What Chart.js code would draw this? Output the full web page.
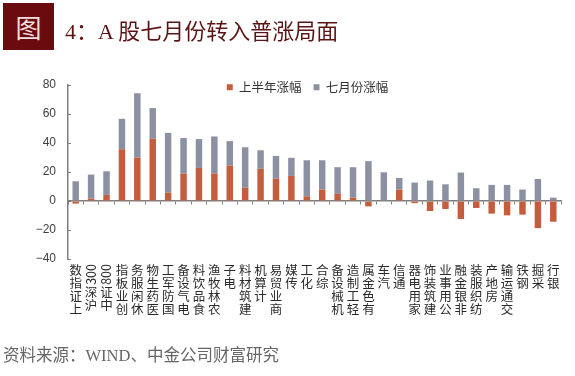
<!DOCTYPE html>
<html lang="zh">
<head>
<meta charset="UTF-8">
<title>A股七月份转入普涨局面</title>
<script src="https://cdn.jsdelivr.net/npm/chart.js"></script>
<style>
  html, body { margin: 0; padding: 0; background: #fff; }
  #wrap { position: relative; width: 575px; height: 376px; overflow: hidden; }
  #fig { position: absolute; left: 3px; top: 3px; width: 51px; height: 47px; background: #6a0c0f;
         color: #f3dede; font: 26px "Noto Sans CJK SC"; text-align: center; line-height: 47px; }
  #title { position: absolute; left: 65px; top: 13px; font: 22px "Liberation Serif", "Noto Sans CJK SC";
           color: #5a1414; white-space: nowrap; }
  #source { position: absolute; left: 3px; top: 342px; font: 16.5px "Liberation Serif", "Noto Sans CJK SC";
            color: #666; white-space: nowrap; }
  #chart { position: absolute; left: 0; top: 0; }
</style>
</head>
<body>
<div id="wrap">
  <canvas id="chart" width="575" height="376"></canvas>
  <div id="fig">图</div>
  <div id="title">4：A 股七月份转入普涨局面</div>
  <div id="source">资料来源：WIND、中金公司财富研究</div>
</div>
<script>
const categories = ['上证指数', '沪深300', '中证800', '创业板指', '休闲服务', '医药生物', '国防军工', '电气设备',
    '食品饮料', '农林牧渔', '电子', '建筑材料', '计算机', '商业贸易', '传媒', '化工',
    '综合', '机械设备', '轻工制造', '有色金属', '汽车', '通信', '家用电器', '建筑装饰',
    '公用事业', '非银金融', '纺织服装', '房地产', '交通运输', '钢铁', '采掘', '银行'];
// 上半年涨幅 (%)
const firstHalf = [-1.8, 1.6, 4.2, 35.7, 30.0, 43.1, 5.8, 18.9,
    22.8, 18.9, 24.5, 9.2, 22.2, 15.5, 17.3, 3.2,
    7.9, 4.9, 2.3, -3.7, 0.3, 7.9, -1.5, -6.9,
    -5.5, -12.4, -4.8, -8.7, -9.9, -9.4, -18.7, -14.3];
// 七月份涨幅 (%), stacked on top of first half
const july = [13.6, 16.6, 16.3, 21.0, 44.3, 21.0, 41.2, 24.5,
    19.9, 25.6, 16.8, 27.9, 12.8, 15.6, 12.5, 24.9,
    20.2, 18.4, 21.0, 27.5, 19.5, 8.0, 12.7, 14.1,
    11.5, 19.6, 8.8, 11.1, 11.1, 7.9, 15.2, 2.3];
const yMin = -40, yMax = 80, yStep = 20;

const cjk = '"Noto Sans CJK SC", sans-serif';

// vertical category labels: characters upright, read bottom-to-top, digit runs rotated
const verticalLabels = {
    id: 'verticalLabels',
    afterLayout(chart) {
        // legend sits over the top of the plot like the original
        const lg = chart.legend;
        lg.top += 18.5; lg.bottom += 18.5;
        lg.left += 27; lg.right += 27;
    },
    afterDraw(chart) {
        const ctx = chart.ctx, xs = chart.scales.x;
        const top = chart.chartArea.bottom + 5;
        ctx.save();
        ctx.fillStyle = '#2a2a2a';
        ctx.font = '12.5px ' + cjk;
        categories.forEach((label, i) => {
            const x = xs.getPixelForValue(i);
            let y = top;
            label.match(/[0-9A-Za-z]+|./g).reverse().forEach(t => {
                if (/^[0-9A-Za-z]+$/.test(t)) {
                    const w = ctx.measureText(t).width;
                    ctx.save();
                    ctx.translate(x, y);
                    ctx.rotate(-Math.PI / 2);
                    ctx.textAlign = 'right';
                    ctx.textBaseline = 'middle';
                    ctx.fillText(t, 0, 0);
                    ctx.restore();
                    y += w + 1;
                } else {
                    ctx.textAlign = 'center';
                    ctx.textBaseline = 'top';
                    ctx.fillText(t, x, y);
                    y += 13;
                }
            });
        });
        ctx.restore();
    }
};

new Chart(document.getElementById('chart'), {
    type: 'bar',
    data: {
        labels: categories,
        datasets: [{
            label: '上半年涨幅',
            data: firstHalf,
            backgroundColor: '#c45c3e',
            barPercentage: 0.42,
            categoryPercentage: 1
        }, {
            label: '七月份涨幅',
            data: july,
            backgroundColor: '#8c90a3',
            barPercentage: 0.42,
            categoryPercentage: 1
        }]
    },
    options: {
        responsive: false,
        animation: false,
        layout: { padding: { top: 50.5, right: 14, bottom: 117, left: 0 } },
        scales: {
            x: {
                stacked: true,
                position: { y: 0 },
                grid: { drawOnChartArea: false, tickLength: 3, color: '#808080', offset: true },
                border: { color: '#808080', width: 1.5 },
                ticks: { display: false }
            },
            y: {
                stacked: true,
                min: yMin,
                max: yMax,
                afterFit: s => { s.width = 68; },
                grid: { drawOnChartArea: false, tickLength: -3, color: '#808080' },
                border: { color: '#808080', width: 1.5 },
                ticks: {
                    stepSize: yStep,
                    padding: 15,
                    color: '#404040',
                    font: { family: '"Liberation Sans", Arial, sans-serif', size: 12 },
                    callback: v => String(v).replace('-', '\u2212')
                }
            }
        },
        plugins: {
            legend: {
                position: 'top',
                labels: {
                    boxWidth: 6,
                    boxHeight: 6,
                    padding: 12,
                    color: '#333',
                    font: { family: cjk, size: 12.5 }
                }
            },
            tooltip: { enabled: false }
        }
    },
    plugins: [verticalLabels]
});
</script>
</body>
</html>
